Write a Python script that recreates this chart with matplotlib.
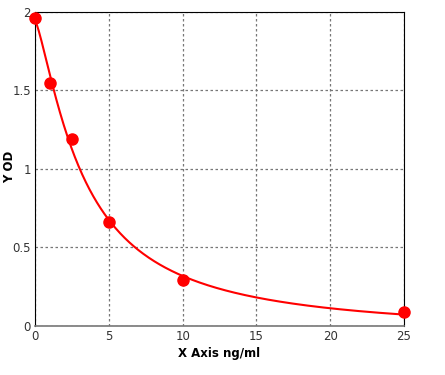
import numpy as np
import matplotlib.pyplot as plt

# standard points
conc = np.array([0, 1, 2.5, 5, 10, 25])
od = np.array([1.96, 1.55, 1.19, 0.66, 0.29, 0.09])

x_ticks = [0, 5, 10, 15, 20, 25]
y_ticks = [0, 0.5, 1, 1.5, 2]


# 4-parameter logistic fit of the points (grid over b, c; a, d by least squares)
def fit_4pl(x, y):
    best = None
    for b in np.linspace(0.5, 2.5, 81):
        for c in np.linspace(0.5, 20, 196):
            g = 1.0 / (1.0 + (x / c) ** b)
            A = np.column_stack([g, 1 - g])
            coef, *_ = np.linalg.lstsq(A, y, rcond=None)
            sse = np.sum((A @ coef - y) ** 2)
            if best is None or sse < best[0]:
                best = (sse, coef[0], b, c, coef[1])
    return best[1:]


a, b, c, d = fit_4pl(conc, od)
xs = np.linspace(0, 25, 400)
ys = d + (a - d) / (1 + (xs / c) ** b)

fig = plt.figure(figsize=(4.45, 3.75), dpi=100)
ax = fig.add_axes([0.0787, 0.1307, 0.8293, 0.8373])

ax.plot(xs, ys, color='red', lw=1.5, zorder=3)
ax.plot(conc, od, 'o', color='red', ms=8, zorder=4, clip_on=False)

ax.set_xlim(0, 25)
ax.set_ylim(0, 2)
ax.set_xticks(x_ticks)
ax.set_yticks(y_ticks)
ax.set_xticklabels([str(t) for t in x_ticks])
ax.set_yticklabels(['0', '0.5', '1', '1.5', '2'])
ax.tick_params(length=0, labelsize=8.5, pad=3, colors='#333333')
ax.grid(True, color='#777777', ls=(0, (2, 2)), lw=0.9)

for s in ['left', 'top', 'right']:
    ax.spines[s].set_color('black')
ax.spines['bottom'].set_color('#777777')
ax.spines['bottom'].set_linewidth(1.2)

ax.set_xlabel('X Axis ng/ml', fontsize=8.5, fontweight='bold', labelpad=3)
fig.text(0.022, 0.555, 'Y OD', rotation=90, fontsize=8.5, fontweight='bold',
         ha='center', va='center')

fig.savefig('out.png', dpi=100)
